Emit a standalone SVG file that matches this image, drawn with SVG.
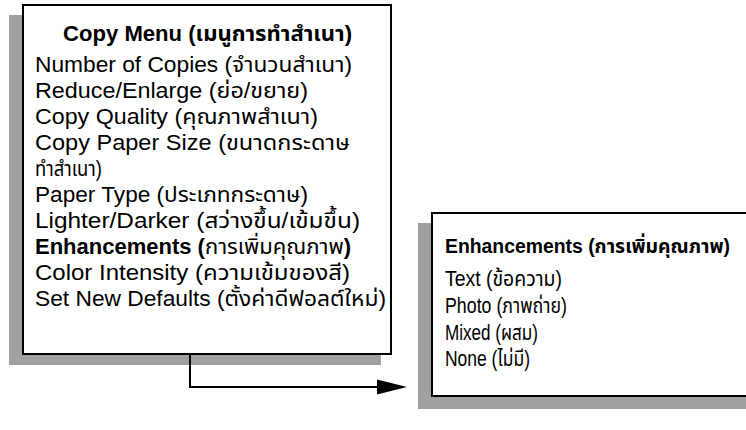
<svg xmlns="http://www.w3.org/2000/svg" width="746" height="430" viewBox="0 0 746 430">
<style>
.t{font-family:"Liberation Sans","Noto Sans Thai","Noto Sans",sans-serif;font-size:22px;fill:#000}
.b{font-weight:bold}
.box{fill:#fff;stroke:#000;stroke-width:2}
.sh{fill:#a0a0a0}
.con{fill:none;stroke:#000;stroke-width:2}
</style>
<defs>
<marker id="ah" markerWidth="30" markerHeight="16" refX="0" refY="8" orient="auto" markerUnits="userSpaceOnUse">
<polygon points="0,0.6 30,8 0,15.4" fill="#000"/>
</marker>
</defs>
<g id="copy-menu">
<rect class="sh" x="9" y="15" width="372" height="350"/>
<rect class="box" x="23" y="5" width="368" height="349"/>
<text class="t b" x="207.5" y="41" text-anchor="middle" textLength="289" lengthAdjust="spacingAndGlyphs">Copy Menu (เมนูการทำสำเนา)</text>
<text class="t" x="35" y="72" textLength="317" lengthAdjust="spacingAndGlyphs">Number of Copies (จำนวนสำเนา)</text>
<text class="t" x="35" y="98" textLength="273" lengthAdjust="spacingAndGlyphs">Reduce/Enlarge (ย่อ/ขยาย)</text>
<text class="t" x="35" y="124" textLength="283" lengthAdjust="spacingAndGlyphs">Copy Quality (คุณภาพสำเนา)</text>
<text class="t" x="35" y="150" textLength="315" lengthAdjust="spacingAndGlyphs">Copy Paper Size (ขนาดกระดาษ</text>
<text class="t" x="35" y="176" textLength="67" lengthAdjust="spacingAndGlyphs">ทำสำเนา)</text>
<text class="t" x="35" y="202" textLength="273" lengthAdjust="spacingAndGlyphs">Paper Type (ประเภทกระดาษ)</text>
<text class="t" x="35" y="228" textLength="325" lengthAdjust="spacingAndGlyphs">Lighter/Darker (สว่างขึ้น/เข้มขึ้น)</text>
<text class="t" x="35" y="254"><tspan class="b">Enhancements (</tspan>การเพิ่มคุณภาพ<tspan class="b">)</tspan></text>
<text class="t" x="35" y="280" textLength="315" lengthAdjust="spacingAndGlyphs">Color Intensity (ความเข้มของสี)</text>
<text class="t" x="35" y="306" textLength="351" lengthAdjust="spacingAndGlyphs">Set New Defaults (ตั้งค่าดีฟอลต์ใหม่)</text>
</g>
<g id="enhancements">
<rect class="sh" x="418" y="223" width="328" height="186"/>
<rect class="box" x="432" y="213" width="316" height="183"/>
<text class="t b" x="445" y="253" style="font-size:20px" textLength="285" lengthAdjust="spacingAndGlyphs">Enhancements (การเพิ่มคุณภาพ)</text>
<text class="t" x="445" y="286" textLength="117" lengthAdjust="spacingAndGlyphs">Text (ข้อความ)</text>
<text class="t" x="445" y="313" textLength="122" lengthAdjust="spacingAndGlyphs">Photo (ภาพถ่าย)</text>
<text class="t" x="445" y="340" textLength="93" lengthAdjust="spacingAndGlyphs">Mixed (ผสม)</text>
<text class="t" x="445" y="366" textLength="85" lengthAdjust="spacingAndGlyphs">None (ไม่มี)</text>
</g>
<g id="connectors">
<path class="con" d="M190,355 V387 H377" marker-end="url(#ah)"/>
</g>
</svg>
